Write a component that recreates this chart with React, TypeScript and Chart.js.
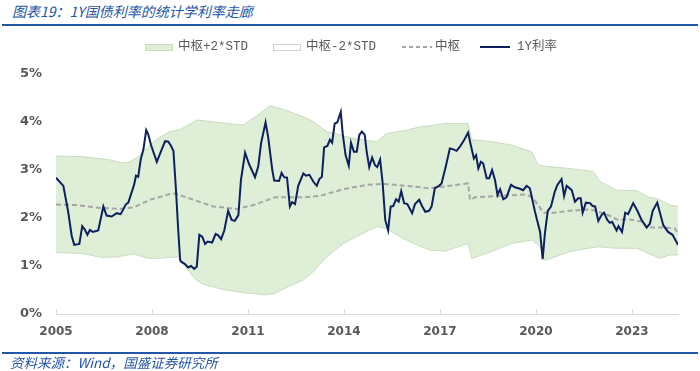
import React, { useEffect, useRef } from "react";
import { Chart, registerables } from "chart.js";

Chart.register(...registerables);

const TITLE = "图表19：1Y国债利率的统计学利率走廊";
const SOURCE = "资料来源：Wind，国盛证券研究所";
const LEGEND_LABELS = ["中枢+2*STD", "中枢-2*STD", "中枢", "1Y利率"];
const TICK_YEARS = [2005, 2008, 2011, 2014, 2017, 2020, 2023];
const Y_TICKS = [0, 1, 2, 3, 4, 5];

// 1Y rate: [decimal year, %]
const rateX = [
  2005.0, 2005.23, 2005.38, 2005.49, 2005.57, 2005.73, 2005.82, 2005.9, 2005.98, 2006.06,
  2006.15, 2006.32, 2006.48, 2006.58, 2006.74, 2006.9, 2007.02, 2007.19, 2007.26, 2007.44,
  2007.5, 2007.57, 2007.65, 2007.73, 2007.82, 2007.88, 2007.97, 2008.15, 2008.3, 2008.41,
  2008.51, 2008.58, 2008.67, 2008.75, 2008.82, 2008.88, 2008.91, 2009.03, 2009.13, 2009.22,
  2009.32, 2009.4, 2009.48, 2009.57, 2009.66, 2009.74, 2009.88, 2009.99, 2010.07, 2010.16,
  2010.26, 2010.38, 2010.49, 2010.59, 2010.7, 2010.78, 2010.91, 2011.03, 2011.22, 2011.32,
  2011.41, 2011.55, 2011.63, 2011.76, 2011.82, 2011.97, 2012.05, 2012.13, 2012.22, 2012.31,
  2012.38, 2012.47, 2012.57, 2012.73, 2012.81, 2012.92, 2013.04, 2013.15, 2013.23, 2013.31,
  2013.38, 2013.48, 2013.56, 2013.63, 2013.71, 2013.79, 2013.9, 2013.96, 2014.05, 2014.15,
  2014.22, 2014.31, 2014.4, 2014.48, 2014.56, 2014.65, 2014.71, 2014.79, 2014.88, 2014.97,
  2015.04, 2015.13, 2015.21, 2015.29, 2015.38, 2015.46, 2015.54, 2015.63, 2015.71, 2015.79,
  2015.88, 2015.98, 2016.13, 2016.22, 2016.35, 2016.44, 2016.54, 2016.66, 2016.74, 2016.84,
  2016.97, 2017.05, 2017.18, 2017.31, 2017.42, 2017.52, 2017.63, 2017.76, 2017.88, 2017.94,
  2018.06, 2018.13, 2018.2, 2018.28, 2018.35, 2018.46, 2018.54, 2018.63, 2018.72, 2018.8,
  2018.88, 2018.98, 2019.08, 2019.22, 2019.34, 2019.5, 2019.6, 2019.71, 2019.81, 2019.97,
  2020.13, 2020.21, 2020.28, 2020.37, 2020.47, 2020.59, 2020.67, 2020.8, 2020.88, 2020.96,
  2021.12, 2021.22, 2021.32, 2021.4, 2021.46, 2021.56, 2021.69, 2021.77, 2021.85, 2021.95,
  2022.05, 2022.13, 2022.23, 2022.31, 2022.38, 2022.52, 2022.58, 2022.69, 2022.79, 2022.88,
  2023.04, 2023.17, 2023.3, 2023.46, 2023.56, 2023.65, 2023.79, 2023.88, 2023.98, 2024.13,
  2024.27, 2024.44,
];
const rateY = [
  2.84, 2.67, 2.13, 1.63, 1.44, 1.46, 1.83, 1.76, 1.65, 1.75,
  1.71, 1.74, 2.24, 2.05, 2.03, 2.1, 2.08, 2.29, 2.32, 2.69,
  2.88, 2.86, 3.23, 3.42, 3.83, 3.75, 3.52, 3.17, 3.42, 3.6,
  3.59, 3.52, 3.4, 2.58, 1.75, 1.12, 1.09, 1.04, 0.97, 1.0,
  0.94, 0.99, 1.65, 1.61, 1.46, 1.51, 1.49, 1.67, 1.64, 1.56,
  1.74, 2.15, 1.96, 1.94, 2.06, 2.79, 3.36, 3.13, 2.85, 3.07,
  3.56, 3.99, 3.69, 3.0, 2.78, 2.77, 2.94, 2.85, 2.84, 2.24,
  2.33, 2.29, 2.67, 2.93, 2.88, 2.9, 2.76, 2.67, 2.81, 2.86,
  3.47, 3.5, 3.63, 3.57, 3.97, 3.99, 4.21, 3.76, 3.31, 3.09,
  3.57, 3.38, 3.38, 3.73, 3.8, 3.73, 3.38, 3.06, 3.26, 3.1,
  3.06, 3.22, 2.72, 1.96, 1.74, 2.24, 2.25, 2.39, 2.34, 2.56,
  2.31, 2.29, 2.1, 2.29, 2.38, 2.25, 2.13, 2.15, 2.24, 2.62,
  2.67, 2.72, 3.07, 3.45, 3.43, 3.4, 3.49, 3.63, 3.78, 3.59,
  3.24, 3.31, 3.03, 3.17, 3.14, 2.83, 2.83, 3.0, 2.79, 2.48,
  2.6, 2.39, 2.43, 2.69, 2.64, 2.61, 2.58, 2.67, 2.62, 2.13,
  1.71, 1.14, 1.68, 2.15, 2.24, 2.55, 2.69, 2.81, 2.46, 2.67,
  2.58, 2.34, 2.41, 2.41, 2.11, 2.32, 2.31, 2.25, 2.24, 1.94,
  2.06, 2.11, 1.96, 1.9, 1.92, 1.74, 1.83, 1.71, 2.11, 2.08,
  2.31, 2.15, 1.96, 1.8, 1.88, 2.15, 2.32, 2.1, 1.85, 1.71,
  1.65, 1.44,
];

// 中枢
const midX = [
  2005.0, 2005.65, 2006.38, 2007.0, 2007.42, 2007.94, 2008.62, 2008.72, 2009.92, 2010.65,
  2011.17, 2011.84, 2012.73, 2013.25, 2013.98, 2014.71, 2015.23, 2015.96, 2016.67, 2017.05,
  2017.88, 2017.94, 2018.09, 2018.82, 2019.66, 2019.87, 2020.07, 2020.23, 2020.59, 2021.06,
  2021.69, 2022.21, 2022.52, 2022.94, 2023.35, 2023.47, 2024.08, 2024.34, 2024.44,
];
const midY = [
  2.28, 2.27, 2.21, 2.19, 2.22, 2.38, 2.51, 2.51, 2.24, 2.19,
  2.27, 2.43, 2.43, 2.46, 2.6, 2.69, 2.71, 2.67, 2.62, 2.65,
  2.72, 2.38, 2.43, 2.46, 2.49, 2.44, 2.27, 2.11, 2.11, 2.15,
  2.18, 2.08, 1.97, 1.97, 1.92, 1.8, 1.8, 1.78, 1.68,
];

// 中枢+2*STD
const upperX = [
  2005.0, 2005.85, 2006.69, 2007.05, 2007.31, 2007.57, 2007.94, 2008.25, 2008.56, 2008.88,
  2009.4, 2009.71, 2010.33, 2010.85, 2011.22, 2011.69, 2012.16, 2012.73, 2013.04, 2013.46,
  2014.29, 2015.02, 2015.33, 2015.96, 2016.38, 2016.69, 2017.16, 2017.88, 2017.99, 2018.62,
  2019.24, 2019.87, 2020.07, 2020.28, 2020.59, 2021.06, 2021.79, 2022.0, 2022.52, 2023.15,
  2023.51, 2023.77, 2024.19, 2024.44,
];
const upperY = [
  3.29, 3.28, 3.21, 3.15, 3.17, 3.28, 3.52, 3.69, 3.8, 3.84,
  4.04, 4.02, 3.97, 3.94, 4.1, 4.34, 4.25, 4.11, 4.01, 3.8,
  3.66, 3.59, 3.76, 3.83, 3.9, 3.92, 3.97, 3.97, 3.63, 3.59,
  3.52, 3.38, 3.1, 3.08, 3.06, 3.03, 2.97, 2.76, 2.58, 2.57,
  2.44, 2.41, 2.27, 2.24,
];

// 中枢-2*STD
const lowerX = [
  2005.0, 2005.85, 2006.38, 2006.9, 2007.42, 2007.94, 2008.56, 2008.88, 2009.03, 2009.34,
  2009.55, 2010.28, 2010.91, 2011.53, 2011.84, 2012.26, 2012.73, 2013.04, 2013.46, 2013.98,
  2014.5, 2015.02, 2015.33, 2015.75, 2016.27, 2016.69, 2017.16, 2017.88, 2017.99, 2018.62,
  2019.24, 2019.87, 2020.13, 2020.28, 2020.59, 2021.06, 2021.9, 2022.52, 2023.15, 2023.56,
  2023.88, 2024.19, 2024.44,
];
const lowerY = [
  1.28, 1.26, 1.18, 1.19, 1.25, 1.15, 1.18, 1.19, 0.99, 0.74,
  0.63, 0.5, 0.44, 0.4, 0.43, 0.57, 0.71, 0.88, 1.19, 1.47,
  1.65, 1.82, 1.78, 1.61, 1.44, 1.33, 1.31, 1.47, 1.16, 1.3,
  1.47, 1.54, 1.4, 1.12, 1.19, 1.3, 1.4, 1.37, 1.37, 1.25,
  1.16, 1.23, 1.23,
];

const toPts = (xs: number[], ys: number[]) => xs.map((x, i) => ({ x, y: ys[i] }));

const NAVY = "#0c1f5e";
const GREEN = "#dfeed7";
const GREEN_EDGE = "#cadbc0";
const MID_GRAY = "#a6a6a6";
const TEXT_GRAY = "#595959";
const BLUE = "#2356a6";

const tickMarks = {
  id: "tickMarks",
  afterDraw(chart: any) {
    const { ctx, chartArea, scales } = chart;
    const xs = scales.x;
    ctx.save();
    ctx.strokeStyle = "#d9d9d9";
    ctx.lineWidth = 1;
    xs.ticks.forEach((t: any) => {
      const px = Math.round(xs.getPixelForValue(t.value)) + 0.5;
      ctx.beginPath();
      ctx.moveTo(px, chartArea.bottom - 5);
      ctx.lineTo(px, chartArea.bottom);
      ctx.stroke();
    });
    ctx.restore();
  },
};

export default function App() {
  const ref = useRef<HTMLCanvasElement>(null);

  useEffect(() => {
    if (!ref.current) return;
    const chart = new Chart(ref.current, {
      type: "line",
      data: {
        datasets: [
          {
            label: LEGEND_LABELS[3],
            data: toPts(rateX, rateY),
            borderColor: NAVY,
            borderWidth: 2,
            pointRadius: 0,
            fill: false,
            tension: 0,
          },
          {
            label: LEGEND_LABELS[2],
            data: toPts(midX, midY),
            borderColor: MID_GRAY,
            borderWidth: 2,
            borderDash: [5, 3],
            pointRadius: 0,
            fill: false,
          },
          {
            label: LEGEND_LABELS[0],
            data: toPts(upperX, upperY),
            borderColor: GREEN_EDGE,
            borderWidth: 1,
            backgroundColor: GREEN,
            pointRadius: 0,
            fill: "+1",
          },
          {
            label: LEGEND_LABELS[1],
            data: toPts(lowerX, lowerY),
            borderColor: GREEN_EDGE,
            borderWidth: 1,
            backgroundColor: "#ffffff",
            pointRadius: 0,
            fill: false,
          },
        ],
      },
      options: {
        animation: false,
        responsive: false,
        maintainAspectRatio: false,
        layout: { padding: { left: 0, top: 74, right: 22, bottom: 27 } },
        plugins: {
          legend: { display: false },
          tooltip: { enabled: false },
          filler: { drawTime: "beforeDatasetsDraw" },
        },
        scales: {
          x: {
            type: "linear",
            min: 2005,
            max: 2024.44,
            afterBuildTicks: (s: any) => {
              s.ticks = TICK_YEARS.map((v) => ({ value: v }));
            },
            afterFit: (s: any) => {
              s.height = 30;
            },
            grid: { display: false, drawTicks: false },
            border: { display: true, color: "#d9d9d9", width: 1 },
            ticks: {
              autoSkip: false,
              maxRotation: 0,
              padding: 11,
              color: TEXT_GRAY,
              font: { family: "DejaVu Sans", size: 12, weight: "bold" },
              callback: (v: any) => String(v),
            },
          },
          y: {
            type: "linear",
            min: 0,
            max: 5,
            afterBuildTicks: (s: any) => {
              s.ticks = Y_TICKS.map((v) => ({ value: v }));
            },
            afterFit: (s: any) => {
              s.width = 56;
            },
            grid: { display: false, drawTicks: false },
            border: { display: false },
            ticks: {
              padding: 14,
              color: TEXT_GRAY,
              font: { family: "DejaVu Sans", size: 13, weight: "bold" },
              callback: (v: any) => v + "%",
            },
          },
        },
      },
      plugins: [tickMarks],
    } as any);
    return () => chart.destroy();
  }, []);

  const legendText: React.CSSProperties = {
    position: "absolute",
    top: 38,
    height: 18,
    lineHeight: "18px",
    fontSize: 12.5,
    fontFamily: "'Liberation Mono', 'Noto Sans CJK SC', sans-serif",
    color: TEXT_GRAY,
    whiteSpace: "nowrap",
  };

  return (
    <div
      style={{
        position: "fixed",
        left: 0,
        top: 0,
        width: 700,
        height: 371,
        background: "#ffffff",
        overflow: "hidden",
      }}
    >
      <div
        style={{
          position: "absolute",
          left: 12,
          top: 2,
          height: 18,
          lineHeight: "18px",
          fontSize: 14,
          fontStyle: "italic",
          fontFamily: "'Noto Sans CJK SC', sans-serif",
          color: BLUE,
          whiteSpace: "nowrap",
        }}
      >
        {TITLE}
      </div>
      <div style={{ position: "absolute", left: 2, top: 24, width: 696, height: 2, background: BLUE }} />

      <canvas ref={ref} width={700} height={371} style={{ position: "absolute", left: 0, top: 0, width: 700, height: 371 }} />

      <div style={{ position: "absolute", left: 145, top: 44, width: 26, height: 5, background: GREEN, border: `1px solid ${GREEN_EDGE}` }} />
      <div style={{ ...legendText, left: 178 }}>{LEGEND_LABELS[0]}</div>
      <div style={{ position: "absolute", left: 273, top: 44, width: 26, height: 5, background: "#ffffff", border: "1px solid #d0d0d0" }} />
      <div style={{ ...legendText, left: 306 }}>{LEGEND_LABELS[1]}</div>
      <div
        style={{
          position: "absolute",
          left: 402,
          top: 46,
          width: 30,
          height: 2,
          background: `repeating-linear-gradient(to right, ${MID_GRAY} 0 4px, transparent 4px 7px)`,
        }}
      />
      <div style={{ ...legendText, left: 435 }}>{LEGEND_LABELS[2]}</div>
      <div style={{ position: "absolute", left: 480, top: 46, width: 30, height: 2, background: NAVY }} />
      <div style={{ ...legendText, left: 517 }}>{LEGEND_LABELS[3]}</div>

      <div style={{ position: "absolute", left: 2, top: 352, width: 696, height: 2, background: BLUE }} />
      <div
        style={{
          position: "absolute",
          left: 10,
          top: 353,
          height: 18,
          lineHeight: "18px",
          fontSize: 13.5,
          fontStyle: "italic",
          fontFamily: "'Noto Sans CJK SC', sans-serif",
          color: BLUE,
          whiteSpace: "nowrap",
        }}
      >
        {SOURCE}
      </div>
    </div>
  );
}
